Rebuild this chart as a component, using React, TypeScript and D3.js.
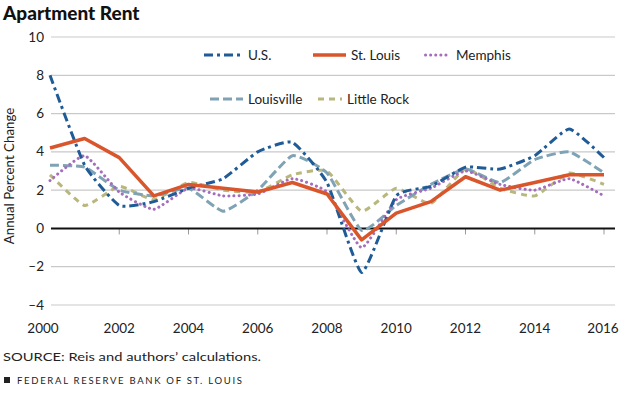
import { useEffect, useRef } from "react";
import * as d3 from "d3";

const years = d3.range(2000, 2017);
const usValues = [8.0, 3.3, 1.2, 1.4, 2.1, 2.6, 4.0, 4.5, 2.4, -2.3, 1.7, 2.2, 3.2, 3.1, 3.8, 5.2, 3.7];
const stLouisValues = [4.2, 4.7, 3.7, 1.7, 2.3, 2.1, 1.9, 2.4, 1.8, -0.6, 0.8, 1.4, 2.7, 2.0, 2.4, 2.8, 2.8];
const memphisValues = [2.5, 3.8, 1.9, 1.0, 2.1, 1.7, 1.8, 2.6, 1.9, -1.0, 1.5, 2.1, 3.0, 2.3, 2.0, 2.6, 1.7];
const louisvilleValues = [3.3, 3.2, 2.0, 1.7, 2.1, 0.9, 2.0, 3.8, 2.9, -0.1, 1.2, 2.3, 3.1, 2.4, 3.6, 4.0, 2.9];
const littleRockValues = [2.8, 1.2, 2.2, 1.5, 2.4, 2.0, 1.9, 2.8, 3.0, 0.9, 2.1, 1.3, 3.1, 2.1, 1.7, 2.9, 2.3];
const yTicks = [-4, -2, 0, 2, 4, 6, 8, 10];
const xTicks = [2000, 2002, 2004, 2006, 2008, 2010, 2012, 2014, 2016];

const series = [
  { name: "Little Rock", values: littleRockValues, color: "#b9b77c", width: 3, dash: "6 5", cap: "butt", smooth: true },
  { name: "Louisville", values: louisvilleValues, color: "#7fa3b5", width: 3, dash: "9 4", cap: "butt", smooth: true },
  { name: "Memphis", values: memphisValues, color: "#a46dbd", width: 3, dash: "0.1 5", cap: "round", smooth: true },
  { name: "U.S.", values: usValues, color: "#1f5b96", width: 3, dash: "9 4 3 4", cap: "butt", smooth: true },
  { name: "St. Louis", values: stLouisValues, color: "#d9552c", width: 3.5, dash: "", cap: "butt", smooth: false },
];

const legendItems = [
  { key: "U.S.", x: 204, y: 55, len: 39 },
  { key: "St. Louis", x: 313, y: 55, len: 33 },
  { key: "Memphis", x: 424, y: 55, len: 27 },
  { key: "Louisville", x: 210, y: 99, len: 33 },
  { key: "Little Rock", x: 318, y: 99, len: 24 },
];

const font = "Lato, 'Open Sans', sans-serif";

export default function App() {
  const svgRef = useRef<SVGSVGElement>(null);

  useEffect(() => {
    if (!svgRef.current) return;
    const svg = d3.select(svgRef.current);
    svg.selectAll("*").remove();

    const width = 621;
    const height = 396;
    const left = 50;
    const right = 604;
    const gridRight = 615;

    const x = d3.scaleLinear().domain([2000, 2016]).range([left, right]);
    const y = d3.scaleLinear().domain([-4, 10]).range([305, 37]);

    svg.attr("width", width).attr("height", height);
    svg.append("rect").attr("width", width).attr("height", height).attr("fill", "#fff");

    // title
    svg.append("text")
      .attr("x", 3).attr("y", 20)
      .attr("font-family", font).attr("font-weight", 900).attr("font-size", 19)
      .attr("fill", "#111")
      .text("Apartment Rent");

    // gridlines
    svg.append("g")
      .selectAll("line")
      .data(yTicks.filter((d) => d !== 0))
      .join("line")
      .attr("x1", left + 1).attr("x2", gridRight)
      .attr("y1", (d) => y(d)).attr("y2", (d) => y(d))
      .attr("stroke", "#c9c9c9").attr("stroke-width", 1.2);

    // y labels
    svg.append("g")
      .selectAll("text")
      .data(yTicks)
      .join("text")
      .attr("x", 44).attr("y", (d) => y(d) + 4.5)
      .attr("text-anchor", "end")
      .attr("font-family", font).attr("font-size", 13.5).attr("fill", "#222")
      .text((d) => (d < 0 ? "\u2013" + Math.abs(d) : String(d)));

    // axis title
    svg.append("text")
      .attr("transform", "translate(14,176) rotate(-90)")
      .attr("text-anchor", "middle")
      .attr("font-family", font).attr("font-size", 13.3).attr("fill", "#222")
      .text("Annual Percent Change");

    // x axis ticks and labels
    svg.append("g")
      .selectAll("line")
      .data(xTicks.slice(1))
      .join("line")
      .attr("x1", (d) => x(d)).attr("x2", (d) => x(d))
      .attr("y1", y(0)).attr("y2", y(0) + 6)
      .attr("stroke", "#999").attr("stroke-width", 1);

    svg.append("g")
      .selectAll("text")
      .data(xTicks)
      .join("text")
      .attr("x", (d) => (d === 2000 ? x(d) - 7 : d === 2016 ? x(d) - 1 : x(d)))
      .attr("y", 333)
      .attr("text-anchor", "middle")
      .attr("font-family", font).attr("font-size", 13.5).attr("fill", "#222")
      .text((d) => String(d));

    // zero line
    svg.append("line")
      .attr("x1", left + 1).attr("x2", gridRight)
      .attr("y1", y(0)).attr("y2", y(0))
      .attr("stroke", "#111").attr("stroke-width", 2);

    // lines
    const lineSmooth = d3.line<number>()
      .x((_, i) => x(years[i]))
      .y((d) => y(d))
      .curve(d3.curveCardinal.tension(0.55));
    const lineStraight = d3.line<number>()
      .x((_, i) => x(years[i]))
      .y((d) => y(d));

    svg.append("g")
      .selectAll("path")
      .data(series)
      .join("path")
      .attr("d", (s) => (s.smooth ? lineSmooth(s.values) : lineStraight(s.values)))
      .attr("fill", "none")
      .attr("stroke", (s) => s.color)
      .attr("stroke-width", (s) => s.width)
      .attr("stroke-dasharray", (s) => s.dash)
      .attr("stroke-linecap", (s) => s.cap)
      .attr("stroke-linejoin", "round");

    // legend
    const lg = svg.append("g");
    legendItems.forEach((item) => {
      const s = series.find((d) => d.name === item.key)!;
      lg.append("line")
        .attr("x1", item.x + (s.cap === "round" ? 1.5 : 0)).attr("x2", item.x + item.len)
        .attr("y1", item.y).attr("y2", item.y)
        .attr("stroke", s.color)
        .attr("stroke-width", s.width)
        .attr("stroke-dasharray", s.dash)
        .attr("stroke-linecap", s.cap);
      lg.append("text")
        .attr("x", item.x + item.len + 5).attr("y", item.y + 5)
        .attr("font-family", font).attr("font-size", 13.5).attr("fill", "#222")
        .text(s.name);
    });

    // footer
    svg.append("text")
      .attr("x", 3).attr("y", 361)
      .attr("font-family", font).attr("font-size", 11.5).attr("fill", "#222")
      .attr("textLength", 258).attr("lengthAdjust", "spacingAndGlyphs")
      .text("SOURCE: Reis and authors\u2019 calculations.");

    svg.append("rect")
      .attr("x", 4).attr("y", 377).attr("width", 6).attr("height", 6)
      .attr("fill", "#222");
    svg.append("text")
      .attr("x", 17).attr("y", 384)
      .attr("font-family", font).attr("font-size", 9.5).attr("letter-spacing", 1.7)
      .attr("fill", "#222")
      .text("FEDERAL RESERVE BANK OF ST. LOUIS");
  }, []);

  return (
    <svg
      ref={svgRef}
      style={{ position: "absolute", left: 0, top: 0, display: "block" }}
    />
  );
}
